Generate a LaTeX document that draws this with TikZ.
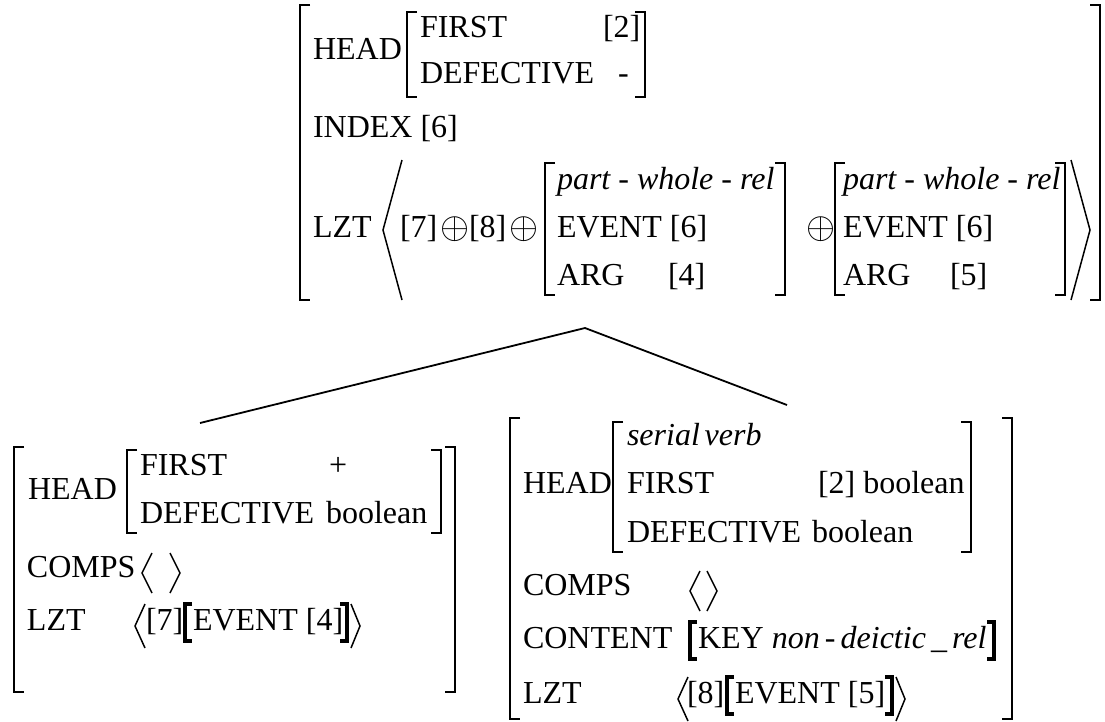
\documentclass[tikz,border=0pt]{standalone}
\usepackage{graphicx}
\usepackage{fontspec}
\setmainfont{Liberation Serif}
\newcommand{\avmfont}{\fontsize{32}{38}\selectfont}
\newcommand{\avmplus}{\scalebox{1.5}{$\oplus$}}
\newcommand{\avmL}[4]{\draw[#1] (#2+10,#3) -- (#2,#3) -- (#2,#4) -- (#2+10,#4);}
\newcommand{\avmR}[4]{\draw[#1] (#2-10,#3) -- (#2,#3) -- (#2,#4) -- (#2-10,#4);}
\newcommand{\bbL}[3]{\draw[bbrk] (#1+7,#2) -- (#1,#2) -- (#1,#3) -- (#1+7,#3);}
\newcommand{\bbR}[3]{\draw[bbrk] (#1-7,#2) -- (#1,#2) -- (#1,#3) -- (#1-7,#3);}
\newcommand{\angL}[4]{\draw[brk] (#1+#4,#2) -- (#1,{(#2+#3)/2}) -- (#1+#4,#3);}
\newcommand{\angR}[4]{\draw[brk] (#1-#4,#2) -- (#1,{(#2+#3)/2}) -- (#1-#4,#3);}
\begin{document}
\begin{tikzpicture}[x=1pt,y=-1pt,
  t/.style={anchor=base west, inner sep=0pt, outer sep=0pt, font=\avmfont},
  op/.style={anchor=center, inner sep=0pt, outer sep=0pt, font=\avmfont},
  brk/.style={line width=1.5pt},
  obrk/.style={line width=2pt},
  bbrk/.style={line width=3.3pt},
  tree/.style={line width=1.8pt}]
\useasboundingbox (0,0) rectangle (1105,721);
% ---------- top AVM ----------
\avmL{obrk}{300}{5}{300}
\avmR{obrk}{1100}{5}{300}
\node[t] (thead) at (313,59) {HEAD};
\avmL{brk}{407}{12}{97}
\avmR{brk}{645}{12}{97}
\node[t] (tfirst) at (420,37) {FIRST};
\node[t] (tfirstv) at (603,37) {[2]};
\node[t] (tdef) at (420,83) {DEFECTIVE};
\node[t] (tdefv) at (618,83) {-};
\node[t] (tindex) at (313,137) {INDEX [6]};
\node[t] (tlzt) at (313,237) {LZT};
\angL{383}{160}{300}{19}
\node[t] (t7) at (400,237) {[7]};
\node[op] (op1) at (455,229) {\avmplus};
\node[t] (t8) at (469,237) {[8]};
\node[op] (op2) at (524,229) {\avmplus};
\avmL{brk}{545}{163}{295}
\avmR{brk}{785}{163}{295}
\node[t] (r1a) at (557,189) {\itshape part - whole - rel};
\node[t] (r1b) at (557,237) {EVENT [6]};
\node[t] (r1c) at (557,285) {ARG};
\node[t] (r1d) at (668,285) {[4]};
\node[op] (op3) at (821,229) {\avmplus};
\avmL{brk}{835}{163}{295}
\avmR{brk}{1065}{163}{295}
\node[t] (r2a) at (843,189) {\itshape part - whole - rel};
\node[t] (r2b) at (843,237) {EVENT [6]};
\node[t] (r2c) at (843,285) {ARG};
\node[t] (r2d) at (950,285) {[5]};
\angR{1090}{160}{300}{19}
% ---------- tree ----------
\coordinate (apex) at (585,328);
\coordinate (lc) at (200,423);
\coordinate (rc) at (787,405);
\draw[tree] (lc) -- (apex) -- (rc);
% ---------- bottom-left AVM ----------
\avmL{brk}{14}{447}{692}
\avmR{brk}{455}{447}{692}
\node[t] (lhead) at (28,499) {HEAD};
\avmL{brk}{127}{450}{533}
\avmR{brk}{441}{450}{533}
\node[t] (lfirst) at (140,475) {FIRST};
\node[t] (lfirstv) at (329,475) {+};
\node[t] (ldef) at (140,523) {DEFECTIVE};
\node[t] (ldefv) at (326,523) {boolean};
\node[t] (lcomps) at (27,577) {COMPS};
\angL{142}{553}{593}{10}
\angR{180}{553}{593}{10}
\node[t] (llzt) at (27,630) {LZT};
\angL{135}{604}{648}{10}
\node[t] (l7) at (146,630) {[7]};
\bbL{185}{604}{641}
\node[t] (lev) at (193,630) {EVENT [4]};
\bbR{347}{604}{641}
\angR{360}{604}{648}{9}
% ---------- bottom-right AVM ----------
\avmL{brk}{510}{418}{719}
\avmR{brk}{1012}{418}{719}
\node[t] (rhead) at (523,493) {HEAD};
\avmL{brk}{613}{422}{552}
\avmR{brk}{971}{422}{552}
\node[t] (rser) at (627,445) {\itshape serial\hspace{0.15em}verb};
\node[t] (rfirst) at (627,493) {FIRST};
\node[t] (rfirstv) at (818,493) {[2] boolean};
\node[t] (rdef) at (627,542) {DEFECTIVE};
\node[t] (rdefv) at (812,542) {boolean};
\node[t] (rcomps) at (523,595) {COMPS};
\angL{690}{571}{611}{10}
\angR{717}{571}{611}{10}
\node[t] (rcont) at (523,648) {CONTENT};
\bbL{690}{622}{659}
\node[t] (rkey) at (698,648) {KEY \itshape non\hspace{0.16em}-\hspace{0.16em}deictic\hspace{0.16em}\_\hspace{0.16em}rel};
\bbR{994}{622}{659}
\node[t] (rlzt) at (523,703) {LZT};
\angL{678}{677}{721}{10}
\node[t] (r8) at (687,703) {[8]};
\bbL{727}{677}{714}
\node[t] (rev) at (735,703) {EVENT [5]};
\bbR{892}{677}{714}
\angR{905}{677}{721}{9}
\end{tikzpicture}
\end{document}
